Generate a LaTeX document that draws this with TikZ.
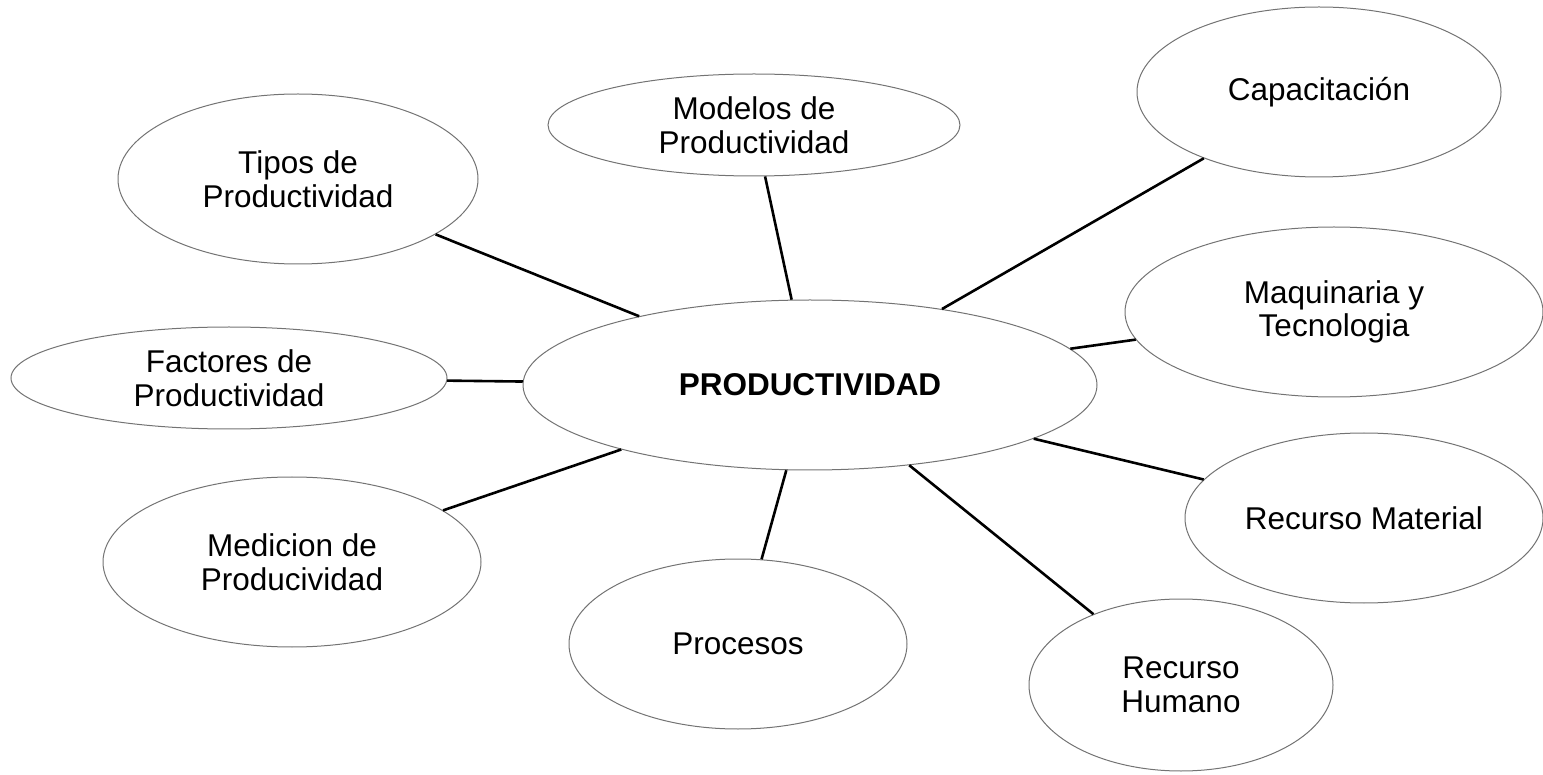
\documentclass[tikz,border=0pt]{standalone}
\usepackage{fontspec}
\setmainfont{Liberation Sans}
\usepackage{tikz}
\usetikzlibrary{shapes.geometric}

\tikzset{
    idea/.style={ellipse, draw=black!55, line width=1pt, inner sep=0pt, align=center,
        font=\fontsize{31.5}{33.5}\selectfont},
    conector/.style={draw=black, line width=2.6pt}
}

\begin{document}
\begin{tikzpicture}[x=1pt, y=-1pt]
            \useasboundingbox (0,0) rectangle (1543,775);

            \node[idea, minimum width=574pt, minimum height=170pt, font=\fontsize{31.5}{33.5}\selectfont\bfseries] (prod) at (810,385) {PRODUCTIVIDAD};

            \node[idea, minimum width=360pt, minimum height=170pt] (tipos) at (298,179) {Tipos de\\Productividad};
            \node[idea, minimum width=412pt, minimum height=102pt] (modelos) at (754,125) {Modelos de\\Productividad};
            \node[idea, minimum width=364pt, minimum height=170pt] (capac) at (1319,92) {Capacitación};
            \node[idea, minimum width=418pt, minimum height=170pt] (maquina) at (1334,312) {Maquinaria y\\Tecnologia};
            \node[idea, minimum width=436pt, minimum height=102pt] (factores) at (229,378) {Factores de\\Productividad};
            \node[idea, minimum width=378pt, minimum height=170pt] (medicion) at (292,562) {Medicion de\\Producividad};
            \node[idea, minimum width=338pt, minimum height=170pt] (procesos) at (738,644) {Procesos};
            \node[idea, minimum width=358pt, minimum height=170pt] (material) at (1364,518) {Recurso Material};
            \node[idea, minimum width=304pt, minimum height=172pt] (humano) at (1181,685) {Recurso\\Humano};

            \foreach \n in {tipos,modelos,capac,maquina,factores,medicion,procesos,material,humano}{
                \draw[conector] (prod) -- (\n);
            }
        \end{tikzpicture}
\end{document}
